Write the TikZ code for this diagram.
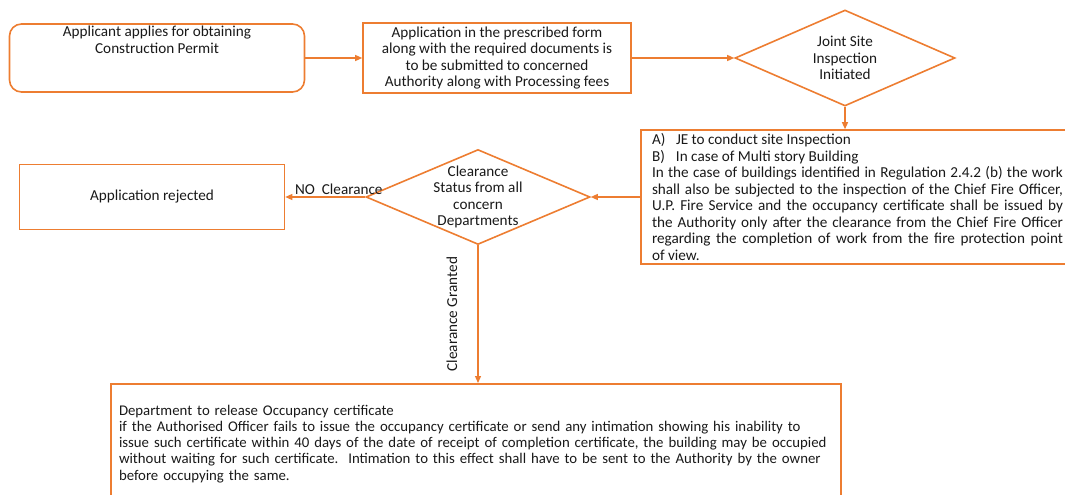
\documentclass[tikz,border=0pt]{standalone}
\usepackage{fontspec}
\setmainfont{Carlito}
\usetikzlibrary{shapes.geometric,arrows.meta,positioning}
\definecolor{flow}{RGB}{237,125,49}
\begin{document}
\begin{tikzpicture}[x=1pt, y=-1pt,
    every node/.style={font=\fontsize{15.2}{16.5}\selectfont, text=black!90},
    box/.style={draw=flow, line width=1.6pt, inner sep=0pt},
    decision/.style={draw=flow, line width=1.6pt, diamond, inner sep=0pt},
    flowarrow/.style={draw=flow, line width=1.3pt, -{Triangle[length=7pt,width=6pt]}}]
    % Page frame
    \path[use as bounding box, clip] (0,0) rectangle (1065,495);

    % Applicant
    \node[box, rounded corners=12pt, minimum width=295pt, minimum height=68pt] (apply) at (157,58) {};
    \node[anchor=north, align=center, inner sep=3pt] (applytext) at (apply.north)
    {Applicant applies for obtaining\\Construction Permit};

    % Application form
    \node[box, minimum width=268pt, minimum height=70pt, align=center] (form) at (497,58)
    {Application in the prescribed form\\along with the required documents is\\to be submitted to concerned\\Authority along with Processing fees};

    % Joint site inspection
    \node[decision, minimum width=220pt, minimum height=96pt,
        label={[align=center]center:{Joint Site\\Inspection\\Initiated}}] (joint) at (845,58) {};

    % Inspection details
    \node[box, inner xsep=11pt, text width=411pt, minimum height=134pt, align=justify] (info) at (857.5,197)
    {\makebox[24pt][l]{A)}JE to conduct site Inspection\\
    \makebox[24pt][l]{B)}In case of Multi story Building\\
    In the case of buildings identified in Regulation 2.4.2 (b) the work\linebreak
    shall also be subjected to the inspection of the Chief Fire Officer,\linebreak
    U.P.\ Fire Service and the occupancy certificate shall be issued by\linebreak
    the Authority only after the clearance from the Chief Fire Officer\linebreak
    regarding the completion of work from the fire protection point\linebreak
    of view.};

    % Clearance status
    \node[decision, minimum width=224pt, minimum height=95pt,
        label={[align=center]center:{Clearance\\Status from all\\concern\\Departments}}] (status) at (478,197) {};

    % Rejected
    \node[box, minimum width=265pt, minimum height=65pt] (reject) at (152,197) {Application rejected};

    % Occupancy certificate
    \node[box, anchor=north, inner xsep=8pt, text width=714pt, minimum height=120pt, align=left,
        font=\fontsize{14.8}{16.3}\selectfont] (occupy) at (476,383)
    {Department to release Occupancy certificate\\
    if the Authorised Officer fails to issue the occupancy certificate or send any intimation showing his inability to\\
    issue such certificate within 40 days of the date of receipt of completion certificate, the building may be occupied\\
    without waiting for such certificate.\ \ Intimation to this effect shall have to be sent to the Authority by the owner\\
    before occupying the same.};

    % Connectors
    \draw[flowarrow] (apply) -- (form);
    \draw[flowarrow] (form) -- (joint);
    \draw[flowarrow] (joint.south) -- (joint.south |- info.north);
    \draw[flowarrow] (info) -- (status);
    \draw[flowarrow] (status) -- node[pos=0.33, above, inner sep=2pt] (noclear) {NO\ \ Clearance} (reject);
    \draw[flowarrow] (status.south) -- node[rotate=90, anchor=south, inner ysep=20pt] (granted) {Clearance Granted}
    (status.south |- occupy.north);
\end{tikzpicture}
\end{document}
